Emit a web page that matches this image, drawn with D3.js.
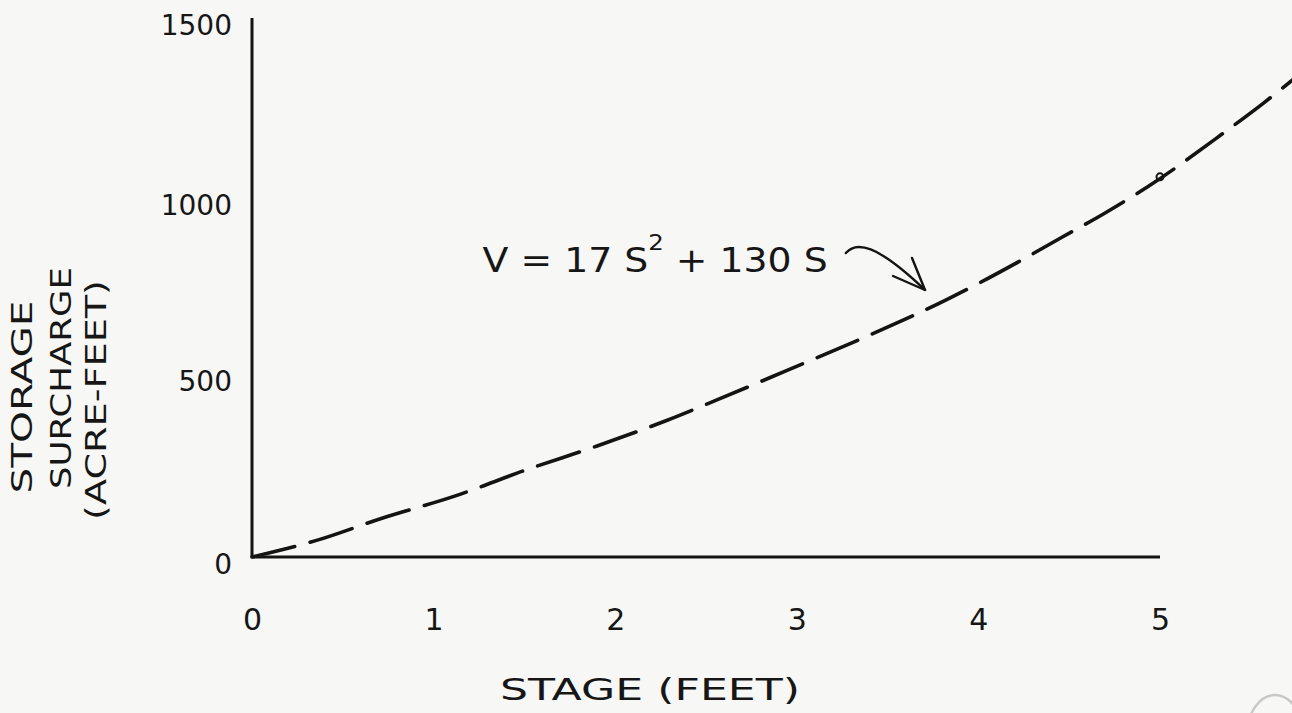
<!DOCTYPE html>
<html>
<head>
<meta charset="utf-8">
<script src="https://cdn.jsdelivr.net/npm/d3@7"></script>
<style>
  html, body { margin: 0; padding: 0; background: #f7f7f5; }
  svg { display: block; }
  text { font-family: "DejaVu Sans", sans-serif; fill: #161616; }
</style>
</head>
<body>
<svg id="chart" width="1292" height="713"></svg>
<script>
// ---- data ----
const stage   = [0, 0.36, 0.72, 1.12, 1.51, 1.90, 2.29, 2.56, 2.95, 3.35, 3.82, 4.22, 4.46, 4.70, 4.93, 5.35, 5.57, 5.73];
const storage = [0, 48, 111, 174, 248, 316, 390, 447, 532, 620, 731, 840, 910, 980, 1053, 1207, 1292, 1358];
const markerStage = [5];
const markerStorage = [1082];
const xTicks = [0, 1, 2, 3, 4, 5];
const xTickLabels = ["0", "1", "2", "3", "4", "5"];
const yTicks = [0, 500, 1000, 1500];
const yTickLabels = ["0", "500", "1000", "1500"];
const xTitle = "STAGE (FEET)";
const yTitleLines = ["STORAGE", "SURCHARGE", "(ACRE-FEET)"];
const equation = { pre: "V = 17 S", sup: "2", post: " + 130 S" };

// ---- layout ----
const svg = d3.select("#chart");
const x = d3.scaleLinear().domain([0, 5]).range([252, 1160]);
const y = d3.scaleLinear().domain([0, 1500]).range([557, 30]);
const ink = "#141414";

// axes (hand-drawn style: plain lines, no tick marks)
const xAxis = d3.axisBottom(x).tickValues(xTicks).tickSize(0).tickFormat((d, i) => xTickLabels[i]).tickPadding(52);
const gx = svg.append("g").attr("transform", `translate(0,${y(0)})`).call(xAxis);
gx.select(".domain").attr("stroke", ink).attr("stroke-width", 3).attr("d", `M${x(0)},0H${x(5)}`);
gx.selectAll(".tick text").attr("font-size", 30).attr("fill", "#222").attr("font-family", "DejaVu Sans, sans-serif");

const yAxis = d3.axisLeft(y).tickValues(yTicks).tickSize(0).tickFormat((d, i) => yTickLabels[i]).tickPadding(20);
const gy = svg.append("g").attr("transform", `translate(${x(0)},0)`).call(yAxis);
gy.select(".domain").attr("stroke", ink).attr("stroke-width", 3).attr("d", `M0,${y(0)}V18`);
gy.selectAll(".tick text").attr("font-size", 28).attr("fill", "#222").attr("font-family", "DejaVu Sans, sans-serif")
  .attr("dy", (d) => d === 0 ? "0.6em" : (d === 1500 ? "0.15em" : "0.32em"));

// curve
const pts = stage.map((s, i) => [s, storage[i]]);
const line = d3.line().x(d => x(d[0])).y(d => y(d[1])).curve(d3.curveMonotoneX);
svg.append("path").datum(pts)
  .attr("d", line)
  .attr("fill", "none")
  .attr("stroke", ink)
  .attr("stroke-width", 3.6)
  .attr("stroke-linecap", "round")
  .attr("stroke-dasharray", "44,16");

// point marker at S = 5
svg.selectAll("circle.mk").data(markerStage).enter().append("circle")
  .attr("class", "mk")
  .attr("cx", (d) => x(d))
  .attr("cy", (d, i) => y(markerStorage[i]))
  .attr("r", 3.5)
  .attr("fill", "none")
  .attr("stroke", ink)
  .attr("stroke-width", 2);

// equation annotation
const eqS = 1.27, eqV = 811;
const eq = svg.append("text")
  .attr("x", x(eqS)).attr("y", y(eqV))
  .attr("font-size", 34)
  .attr("textLength", 345).attr("lengthAdjust", "spacingAndGlyphs");
eq.append("tspan").text(equation.pre);
eq.append("tspan").attr("dy", -22).attr("font-size", 22).text(equation.sup);
eq.append("tspan").attr("dy", 22).text(equation.post);

// arrow to the curve
const tip = [x(3.706), y(760)];
const start = [x(3.27), y(865)];
svg.append("path")
  .attr("d", `M${start[0]},${start[1]} C${start[0] + 10},${start[1] - 12} ${start[0] + 30},${start[1] - 10} ${tip[0]},${tip[1]}`)
  .attr("fill", "none").attr("stroke", ink).attr("stroke-width", 2.4).attr("stroke-linecap", "round");
svg.append("path")
  .attr("d", `M${tip[0] - 13},${tip[1] - 32} L${tip[0]},${tip[1]} L${tip[0] - 32},${tip[1] - 14}`)
  .attr("fill", "none").attr("stroke", ink).attr("stroke-width", 2.4).attr("stroke-linecap", "round").attr("stroke-linejoin", "round");

// axis titles
svg.append("text")
  .attr("x", 650).attr("y", 700)
  .attr("text-anchor", "middle")
  .attr("font-size", 30)
  .attr("textLength", 300).attr("lengthAdjust", "spacingAndGlyphs")
  .text(xTitle);

const yTitlePos = [
  { cx: 22, cy: 397, len: 193 },
  { cx: 61, cy: 378, len: 222 },
  { cx: 96, cy: 400, len: 240 }
];
yTitleLines.forEach((t, i) => {
  const p = yTitlePos[i];
  svg.append("text")
    .attr("transform", `translate(${p.cx},${p.cy}) rotate(-90)`)
    .attr("text-anchor", "middle")
    .attr("dominant-baseline", "central")
    .attr("font-size", 28)
    .attr("textLength", p.len).attr("lengthAdjust", "spacingAndGlyphs")
    .attr("fill", i === 2 ? "#3a3a3a" : "#222")
    .text(t);
});

// faint scan artefact circle in bottom-right corner
svg.append("ellipse")
  .attr("cx", 1275).attr("cy", 735).attr("rx", 28).attr("ry", 40)
  .attr("fill", "none").attr("stroke", "#c8c8c8").attr("stroke-width", 2.5);
</script>
</body>
</html>
